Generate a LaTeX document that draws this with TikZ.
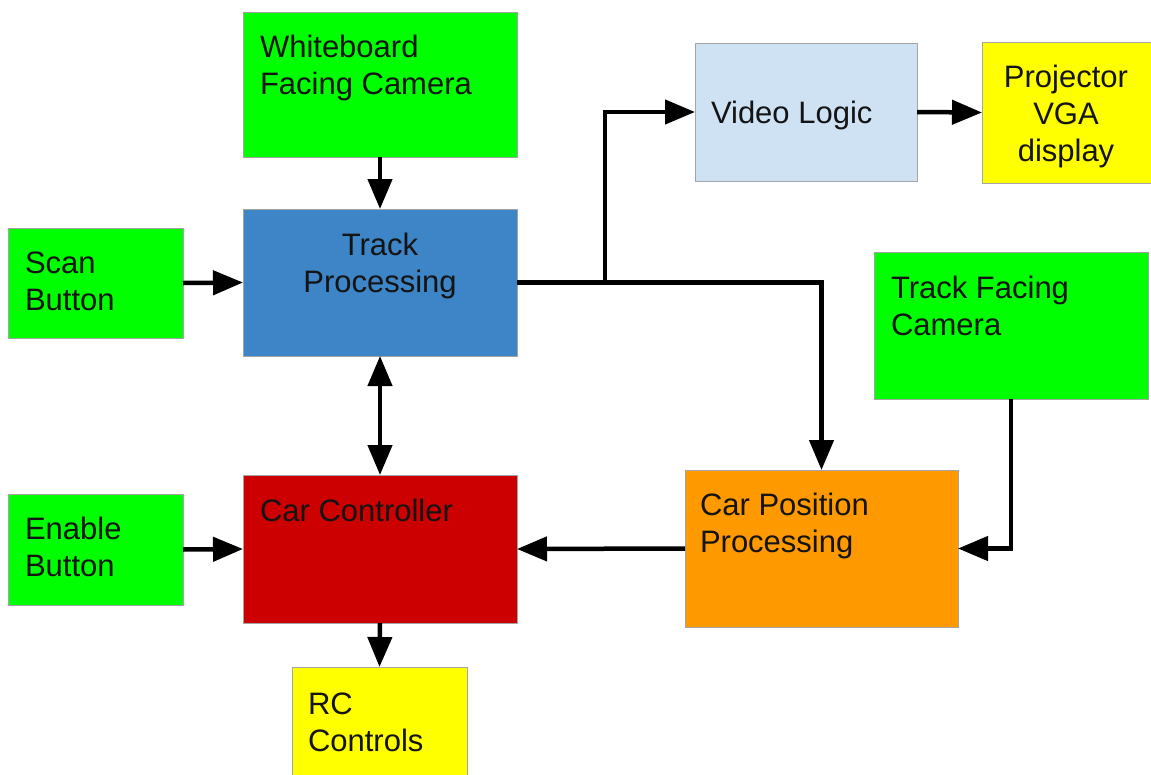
\documentclass[tikz,border=0pt]{standalone}
\usepackage{fontspec}
\setmainfont{Liberation Sans}
\usetikzlibrary{arrows.meta}
\definecolor{cgreen}{RGB}{0,255,0}
\definecolor{cblue}{RGB}{61,133,198}
\definecolor{clight}{RGB}{207,226,243}
\definecolor{cyellow}{RGB}{255,255,0}
\definecolor{cred}{RGB}{204,0,0}
\definecolor{corange}{RGB}{255,153,0}
\definecolor{cborder}{RGB}{165,165,165}
\definecolor{ctext}{RGB}{20,20,20}
\begin{document}
\begin{tikzpicture}[x=1pt,y=-1pt,
  box/.style={draw=cborder, line width=1pt, inner sep=0pt, outer sep=0pt, anchor=north west},
  lbl/.style={inner sep=0pt, outer sep=0pt, align=left, anchor=base west, text=ctext, font=\fontsize{31}{37}\selectfont},
  clbl/.style={lbl, align=center, anchor=base},
  conn/.style={line width=4.5pt, -{Triangle[length=30pt,width=24pt]}},
  dconn/.style={line width=4.5pt, {Triangle[length=30pt,width=24pt]}-{Triangle[length=30pt,width=24pt]}}]
\useasboundingbox (0,0) rectangle (1151,774);

% boxes
\node[box, fill=cgreen,  minimum width=274pt, minimum height=145pt] (wb)   at (243,12)  {};
\node[box, fill=cblue,   minimum width=274pt, minimum height=147pt] (tp)   at (243,209) {};
\node[box, fill=cgreen,  minimum width=175pt, minimum height=110pt] (scan) at (8,228)   {};
\node[box, fill=clight,  minimum width=222pt, minimum height=138pt] (vl)   at (695,43)  {};
\node[box, fill=cyellow, minimum width=172pt, minimum height=141pt] (proj) at (982,42)  {};
\node[box, fill=cgreen,  minimum width=274pt, minimum height=147pt] (tfc)  at (874,252) {};
\node[box, fill=cred,    minimum width=274pt, minimum height=148pt] (cc)   at (243,475) {};
\node[box, fill=cgreen,  minimum width=175pt, minimum height=111pt] (en)   at (8,494)   {};
\node[box, fill=corange, minimum width=273pt, minimum height=157pt] (cpp)  at (685,470) {};
\node[box, fill=cyellow, minimum width=175pt, minimum height=110pt] (rc)   at (292,667) {};

% labels (base anchor = baseline of the last line)
\node[lbl] (wbt)   at ([shift={(17,82)}]wb.north west)   {Whiteboard\\Facing Camera};
\node[clbl] (tpt)  at (380,292) {Track\\Processing};
\node[lbl] (scant) at ([shift={(17,82)}]scan.north west) {Scan\\Button};
\node[lbl] (vlt)   at ([shift={(16,3)}]vl.west) [anchor=west] {Video Logic};
\node[clbl] (projt) at (1066,161) {Projector\\VGA\\display};
\node[lbl] (tfct)  at ([shift={(17,83)}]tfc.north west)  {Track Facing\\Camera};
\node[lbl] (cct)   at ([shift={(17,46)}]cc.north west)   {Car Controller};
\node[lbl] (ent)   at ([shift={(17,82)}]en.north west)   {Enable\\Button};
\node[lbl] (cppt)  at ([shift={(15,82)}]cpp.north west)  {Car Position\\Processing};
\node[lbl] (rct)   at ([shift={(16,84)}]rc.north west)   {RC\\Controls};

% connectors
\path (tp.east) -- ++(88,0) coordinate (j);
\draw[conn] (wb.south) -- (tp.north);
\draw[conn] (scan.east) -- (tp.west);
\draw[conn] (tp.east) -- (j) |- (vl.west);
\draw[conn] (j) -| (cpp.north);
\draw[conn] (vl.east) -- (proj.west);
\draw[dconn] (tp.south) -- (cc.north);
\draw[conn] (en.east) -- (cc.west);
\draw[conn] (cpp.west) -- (cc.east);
\draw[conn] (tfc.south) |- (cpp.east);
\draw[conn] (cc.south) -- (rc.north);
\end{tikzpicture}
\end{document}
